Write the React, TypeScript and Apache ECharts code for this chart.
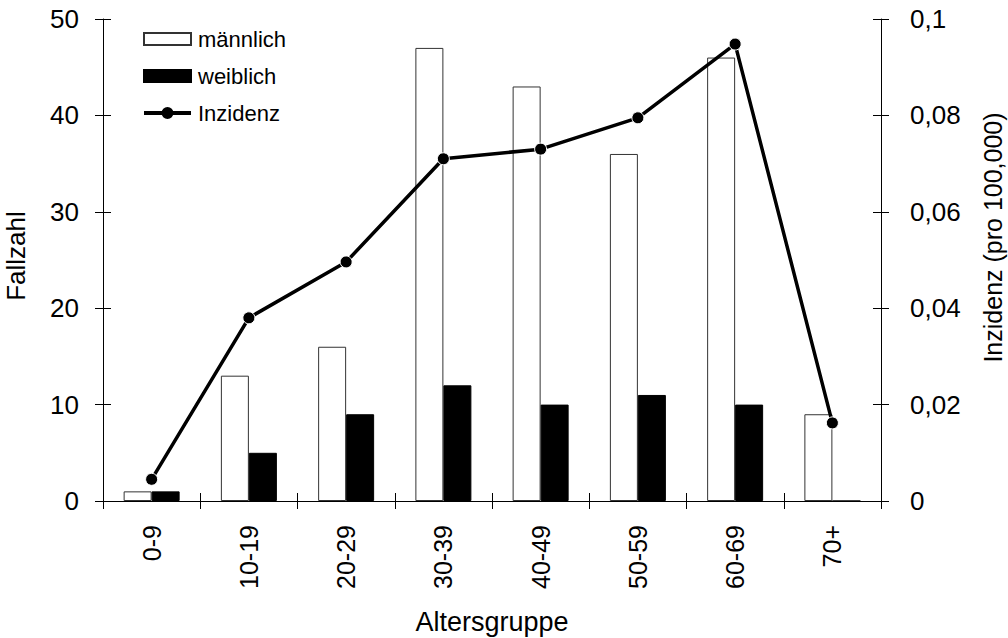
import React, { useEffect, useRef } from "react";
import * as echarts from "echarts";

const categories = ["0-9", "10-19", "20-29", "30-39", "40-49", "50-59", "60-69", "70+"];
const maleCases = [1, 13, 16, 47, 43, 36, 46, 9];
const femaleCases = [1, 5, 9, 12, 10, 11, 10, 0];
const incidence = [0.0045, 0.038, 0.0496, 0.071, 0.073, 0.0795, 0.0948, 0.0162];

const FONT = "Liberation Sans, Arial, sans-serif";
const LINE_ICON =
  "path://M0,4.5 L47,4.5 L47,8.5 L0,8.5 Z M17.5,6.5 A6,6 0 1,1 29.5,6.5 A6,6 0 1,1 17.5,6.5 Z";

export default function App() {
  const ref = useRef<HTMLDivElement>(null);
  useEffect(() => {
    if (!ref.current) return;
    const chart = echarts.init(ref.current, undefined, { renderer: "svg" });
    const axisLine = { show: true, lineStyle: { color: "#000", width: 1 } };
    chart.setOption({
      animation: false,
      backgroundColor: "#fff",
      textStyle: { fontFamily: FONT, color: "#000" },
      grid: { left: 103, right: 127, top: 19, bottom: 137, outerBoundsMode: "none", containLabel: false },
      legend: {
        orient: "vertical",
        left: 143,
        top: 28,
        padding: 0,
        itemWidth: 47,
        itemHeight: 12,
        itemGap: 15,
        textStyle: { fontFamily: FONT, fontSize: 22, color: "#000", padding: [0, 0, 0, 2] },
        data: [
          { name: "männlich", icon: "rect" },
          { name: "weiblich", icon: "rect" },
          {
            name: "Inzidenz",
            icon: LINE_ICON,
            itemStyle: { color: "#000", borderWidth: 0 },
            lineStyle: { width: 0 },
          },
        ],
      },
      xAxis: [
        {
          type: "category",
          data: categories,
          axisLine,
          axisTick: { show: true, length: 8, lineStyle: { color: "#000" } },
          axisLabel: { rotate: 90, fontSize: 25, margin: 24, color: "#000", fontFamily: FONT },
          name: "Altersgruppe",
          nameLocation: "middle",
          nameGap: 107,
          nameTextStyle: { fontSize: 27, color: "#000", fontFamily: FONT },
        },
        {
          type: "category",
          data: categories,
          position: "bottom",
          axisLine: { show: false },
          axisTick: { show: true, inside: true, length: 8, lineStyle: { color: "#000" } },
          axisLabel: { show: false },
        },
      ],
      yAxis: [
        {
          type: "value",
          min: 0,
          max: 50,
          interval: 10,
          position: "left",
          axisLine,
          axisTick: { show: true, length: 8, lineStyle: { color: "#000" } },
          splitLine: { show: false },
          axisLabel: { fontSize: 26, margin: 24, color: "#000", fontFamily: FONT },
          name: "Fallzahl",
          nameLocation: "middle",
          nameGap: 74,
          nameRotate: 90,
          nameTextStyle: { fontSize: 26, color: "#000", fontFamily: FONT, padding: [0, 0, 0, 8] },
        },
        {
          type: "value",
          min: 0,
          max: 0.1,
          interval: 0.02,
          position: "right",
          axisLine,
          axisTick: { show: true, length: 8, lineStyle: { color: "#000" } },
          splitLine: { show: false },
          axisLabel: {
            fontSize: 26,
            margin: 29,
            color: "#000",
            fontFamily: FONT,
            formatter: (v: number) => (v === 0 ? "0" : String(Number(v.toFixed(2))).replace(".", ",")),
          },
          name: "Inzidenz (pro 100,000)",
          nameLocation: "middle",
          nameGap: 99,
          nameRotate: 90,
          nameTextStyle: { fontSize: 25, color: "#000", fontFamily: FONT, padding: [0, 0, 0, 45] },
        },
        {
          type: "value",
          min: 0,
          max: 50,
          interval: 10,
          position: "left",
          axisLine: { show: false },
          axisTick: { show: true, inside: true, length: 8, lineStyle: { color: "#000" } },
          splitLine: { show: false },
          axisLabel: { show: false },
        },
        {
          type: "value",
          min: 0,
          max: 0.1,
          interval: 0.02,
          position: "right",
          axisLine: { show: false },
          axisTick: { show: true, inside: true, length: 8, lineStyle: { color: "#000" } },
          splitLine: { show: false },
          axisLabel: { show: false },
        },
      ],
      series: [
        {
          name: "männlich",
          type: "bar",
          data: maleCases,
          barWidth: 28,
          barGap: "0%",
          itemStyle: { color: "#fff", borderColor: "#333", borderWidth: 1 },
        },
        {
          name: "weiblich",
          type: "bar",
          data: femaleCases,
          barWidth: 28,
          barGap: "0%",
          itemStyle: { color: "#000", borderColor: "#000", borderWidth: 1 },
        },
        {
          name: "Inzidenz",
          type: "line",
          yAxisIndex: 1,
          data: incidence,
          symbol: "circle",
          symbolSize: 12,
          lineStyle: { color: "#000", width: 3.5 },
          itemStyle: { color: "#000", borderColor: "#fff", borderWidth: 1 },
          z: 5,
        },
      ],
    });
    return () => chart.dispose();
  }, []);
  return <div ref={ref} style={{ width: 1008, height: 638, position: "absolute", left: 0, top: 0 }} />;
}
